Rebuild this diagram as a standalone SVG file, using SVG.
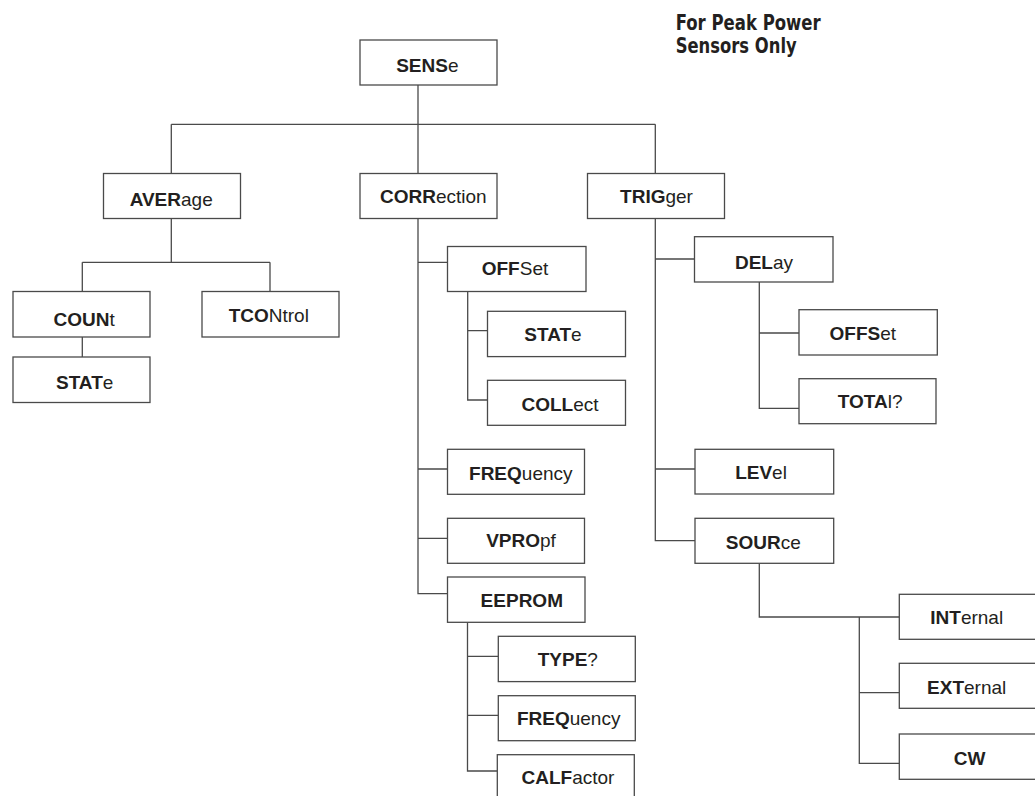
<svg xmlns="http://www.w3.org/2000/svg" width="1035" height="796" viewBox="0 0 1035 796">
<style>
.box{fill:#fff;stroke:#4a4a4a;stroke-width:1.3}
.lbl{font-family:"Liberation Sans",Arial,sans-serif;font-size:19px;fill:#231f20;text-anchor:middle}
.lbl tspan.b{font-weight:bold}
.conn{fill:none;stroke:#4a4a4a;stroke-width:1.3}
.note{font-family:"Liberation Sans Narrow","DejaVu Sans Condensed","Liberation Sans",sans-serif;font-weight:bold;font-size:22px;fill:#231f20}
</style>
<rect width="1035" height="796" fill="#fff"/>
<g id="connectors">
<path class="conn" d="M418,85V124.3M171.3,124.3H655.3M171.3,124.3V173.5M418,124.3V173.5M655.3,124.3V173.5"/>
<path class="conn" d="M171.3,218.5V262.3M82.3,262.3H270M82.3,262.3V291.5M270,262.3V291.5M82.3,337V357"/>
<path class="conn" d="M418,218.5V593.7H447.5M418,262.3H447.5M418,469H447.5M418,538.3H447.5"/>
<path class="conn" d="M467.7,291.5V400H487.5M467.7,330.7H487.5"/>
<path class="conn" d="M467.5,622.3V771H497.3M467.5,656.3H498.3M467.5,715.3H498.3"/>
<path class="conn" d="M655.3,218.5V540.7H695M655.3,259H694.5M655.3,469H695"/>
<path class="conn" d="M759.3,282V408.3H799M759.3,333H799"/>
<path class="conn" d="M759.3,563.3V617H899.3M859.3,617V763.3H899.3M859.3,692.7H899.3"/>
</g>
<g id="note">
<text class="note" x="675.7" y="30" textLength="145" lengthAdjust="spacingAndGlyphs">For Peak Power</text>
<text class="note" x="675.7" y="52.7" textLength="121" lengthAdjust="spacingAndGlyphs">Sensors Only</text>
</g>
<g id="n-sense"><rect class="box" x="360" y="40" width="137" height="45"/><text class="lbl" x="427.3" y="72"><tspan class="b">SENS</tspan>e</text></g>
<g id="n-average"><rect class="box" x="103.5" y="173.5" width="137" height="45"/><text class="lbl" x="171.2" y="206"><tspan class="b">AVER</tspan>age</text></g>
<g id="n-correction"><rect class="box" x="360" y="173.5" width="137" height="45"/><text class="lbl" x="433.3" y="202.7"><tspan class="b">CORR</tspan>ection</text></g>
<g id="n-trigger"><rect class="box" x="587.5" y="173.5" width="137" height="45"/><text class="lbl" x="656.5" y="202.7"><tspan class="b">TRIG</tspan>ger</text></g>
<g id="n-count"><rect class="box" x="13" y="291.5" width="137" height="45.5"/><text class="lbl" x="84.2" y="326.3"><tspan class="b">COUN</tspan>t</text></g>
<g id="n-tcontrol"><rect class="box" x="202" y="291.5" width="137" height="45.5"/><text class="lbl" x="268.8" y="322.3"><tspan class="b">TCO</tspan>Ntrol</text></g>
<g id="n-avg-state"><rect class="box" x="13" y="357" width="137" height="45.5"/><text class="lbl" x="84.7" y="389.3"><tspan class="b">STAT</tspan>e</text></g>
<g id="n-offset"><rect class="box" x="447.5" y="246.5" width="138.5" height="45"/><text class="lbl" x="515" y="275.3"><tspan class="b">OFF</tspan>Set</text></g>
<g id="n-off-state"><rect class="box" x="487.5" y="311.3" width="138" height="45.3"/><text class="lbl" x="553" y="341.3"><tspan class="b">STAT</tspan>e</text></g>
<g id="n-collect"><rect class="box" x="487.5" y="380.3" width="138" height="45"/><text class="lbl" x="560" y="410.7"><tspan class="b">COLL</tspan>ect</text></g>
<g id="n-frequency"><rect class="box" x="447.5" y="449.3" width="137" height="45"/><text class="lbl" x="520.8" y="480"><tspan class="b">FREQ</tspan>uency</text></g>
<g id="n-vpropf"><rect class="box" x="447.5" y="518.3" width="137" height="45"/><text class="lbl" x="521" y="547.3"><tspan class="b">VPRO</tspan>pf</text></g>
<g id="n-eeprom"><rect class="box" x="447.5" y="577" width="137.5" height="45.3"/><text class="lbl" x="521.8" y="607.3"><tspan class="b">EEPROM</tspan></text></g>
<g id="n-type"><rect class="box" x="498.3" y="636.3" width="137" height="45.3"/><text class="lbl" x="567.8" y="666.3"><tspan class="b">TYPE</tspan>?</text></g>
<g id="n-ee-frequency"><rect class="box" x="498.3" y="695.7" width="137" height="45"/><text class="lbl" x="568.7" y="725.3"><tspan class="b">FREQ</tspan>uency</text></g>
<g id="n-calfactor"><rect class="box" x="497.3" y="754.7" width="137" height="50"/><text class="lbl" x="568" y="784"><tspan class="b">CALF</tspan>actor</text></g>
<g id="n-delay"><rect class="box" x="694.5" y="236.7" width="138.5" height="45.3"/><text class="lbl" x="764" y="269.3"><tspan class="b">DEL</tspan>ay</text></g>
<g id="n-del-offset"><rect class="box" x="799" y="309.7" width="138.3" height="45.3"/><text class="lbl" x="862.8" y="339.7"><tspan class="b">OFFS</tspan>et</text></g>
<g id="n-total"><rect class="box" x="799" y="378.7" width="137" height="45"/><text class="lbl" x="870.2" y="408.3"><tspan class="b">TOTA</tspan>l?</text></g>
<g id="n-level"><rect class="box" x="695" y="449.3" width="138.7" height="44.7"/><text class="lbl" x="761" y="479.3"><tspan class="b">LEV</tspan>el</text></g>
<g id="n-source"><rect class="box" x="695" y="518.3" width="138.7" height="45"/><text class="lbl" x="763.3" y="549"><tspan class="b">SOUR</tspan>ce</text></g>
<g id="n-internal"><rect class="box" x="899.3" y="594.3" width="137" height="45"/><text class="lbl" x="966.7" y="624"><tspan class="b">INT</tspan>ernal</text></g>
<g id="n-external"><rect class="box" x="899.3" y="663.3" width="137" height="45"/><text class="lbl" x="966.7" y="693.7"><tspan class="b">EXT</tspan>ernal</text></g>
<g id="n-cw"><rect class="box" x="899.3" y="734" width="137" height="45.3"/><text class="lbl" x="969.7" y="765.3"><tspan class="b">CW</tspan></text></g>
</svg>
